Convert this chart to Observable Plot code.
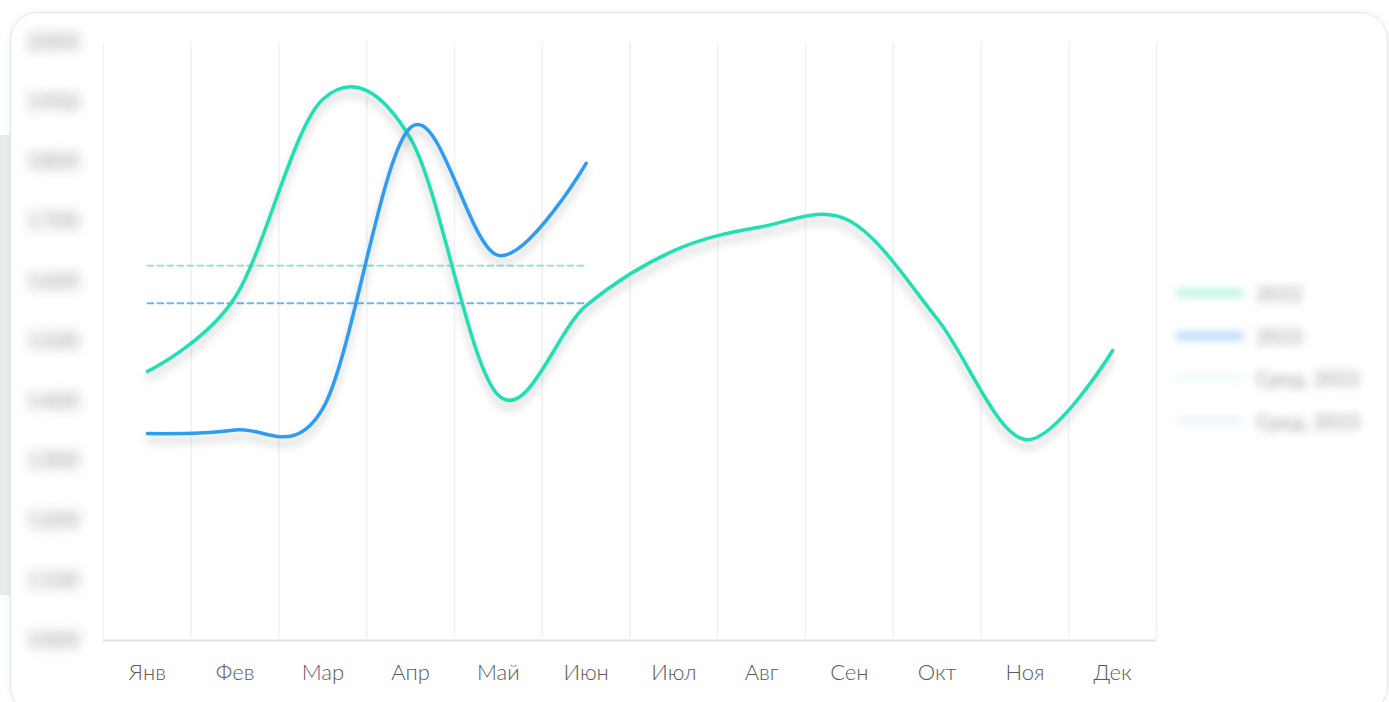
<!DOCTYPE html>
<html>
<head>
<meta charset="utf-8">
<script src="https://cdn.jsdelivr.net/npm/d3@7"></script>
<script src="https://cdn.jsdelivr.net/npm/@observablehq/plot@0.6"></script>
<style>
  html, body { margin: 0; padding: 0; background: #fff; width: 1389px; height: 702px; overflow: hidden; }
  #strip { position: absolute; left: 0; top: 135px; width: 10px; height: 460px; background: #ebebec; }
  #card { position: absolute; left: 10px; top: 12px; width: 1376px; height: 700px; border: 1.5px solid #e2e7ee; border-radius: 28px; background: #fff; box-shadow: 0 0 6px rgba(200,210,220,0.35); }
  #chart { position: absolute; left: 0; top: 0; }
  #legend { position: absolute; left: 1176px; top: 280px; filter: blur(4.5px); font-family: Lato, sans-serif; font-size: 20px; font-weight: bold; color: #999; }
  .item { position: absolute; left: 0; height: 26px; display: flex; align-items: center; white-space: nowrap; }
  .sw { width: 68px; height: 6px; border-radius: 3px; margin-right: 12px; }
</style>
</head>
<body>
<div id="strip"></div>
<div id="card"></div>
<div id="chart"></div>
<div id="legend"></div>
<script>
const months = ["Янв","Фев","Мар","Апр","Май","Июн","Июл","Авг","Сен","Окт","Ноя","Дек"];
const values2022 = [1450, 1574, 1905, 1839, 1410, 1560, 1652, 1692, 1702, 1538, 1336, 1485];
const months2023 = ["Янв","Фев","Мар","Апр","Май","Июн"];
const values2023 = [1346, 1352, 1388, 1858, 1644, 1798];
const avg2022 = 1627;
const avg2023 = 1564;
const avgSpan = ["Янв", "Июн"];
const yTicks = [1000, 1100, 1200, 1300, 1400, 1500, 1600, 1700, 1800, 1900, 2000];
const legendLabels = ["2022", "2023", "Сред. 2022", "Сред. 2023"];

const green = "#1ee0b0", blue = "#2f9cf4";
const greenDash = "#7fe6c8", blueDash = "#72b5f3";

const d2022 = months.map((m, i) => ({month: m, value: values2022[i]}));
const d2023 = months2023.map((m, i) => ({month: m, value: values2023[i]}));
const avgData = [
  ...avgSpan.map(m => ({month: m, value: avg2022, s: "a22"})),
  ...avgSpan.map(m => ({month: m, value: avg2023, s: "a23"}))
];

const plot = Plot.plot({
  width: 1389,
  height: 702,
  marginLeft: 103,
  marginRight: 233,
  marginTop: 42,
  marginBottom: 62,
  style: {background: "transparent", overflow: "visible"},
  x: {type: "point", domain: months, padding: 0.5, round: false, label: null},
  y: {domain: [1000, 2000], label: null},
  marks: [
    Plot.ruleX(months, {x: d => d, dx: -43.875, y1: 1000, y2: 2000, stroke: "#eef1f5", strokeWidth: 1.5, insetTop: -2}),
    Plot.ruleX(["Дек"], {x: d => d, dx: 43.875, y1: 1000, y2: 2000, stroke: "#eef1f5", strokeWidth: 1.5, insetTop: -2}),
    Plot.ruleY([1000], {stroke: "#dfe4eb", strokeWidth: 2}),
    Plot.axisY({ticks: yTicks, tickFormat: d3.format("d"), tickSize: 0, tickPadding: 24, fontSize: 23, fontWeight: "bold", fill: "#8a8a8a", fontFamily: "Lato, sans-serif", label: null}),
    Plot.axisX({tickSize: 0, tickPadding: 24, fontSize: 22, fill: "#5a5a5a", fontFamily: "Lato, sans-serif", fontWeight: 300, label: null}),
    Plot.line(avgData, {x: "month", y: "value", z: "s", stroke: d => d.s === "a22" ? greenDash : blueDash, strokeWidth: 1.8, strokeDasharray: "6,4"}),
    Plot.line(d2022, {x: "month", y: "value", stroke: green, strokeWidth: 3.5, curve: "cardinal"}),
    Plot.line(d2023, {x: "month", y: "value", stroke: blue, strokeWidth: 3.5, curve: "cardinal"})
  ]
});
document.getElementById("chart").appendChild(plot);

// blur the y tick labels like the reference
d3.select(plot).selectAll('g[aria-label="y-axis tick label"]').style("filter", "blur(6px)").style("opacity", 0.65);
// soft shadow under the solid lines
const lineGroups = d3.select(plot).selectAll('g[aria-label="line"]').nodes();
lineGroups.slice(1).forEach(g => g.style.filter = "drop-shadow(0px 7px 4px rgba(0,0,0,0.22))");

const legendColors = ["#9ff0d9", "#9ccaf6", "#e8fbf5", "#e6f1fd"];
const legendTops = [0, 43, 85, 128];
const legend = d3.select("#legend");
legendLabels.forEach((lab, i) => {
  const it = legend.append("div").attr("class", "item").style("top", legendTops[i] + "px");
  it.append("div").attr("class", "sw").style("background", legendColors[i]);
  it.append("span").text(lab).style("color", "#b5b5b5");
});
</script>
</body>
</html>
